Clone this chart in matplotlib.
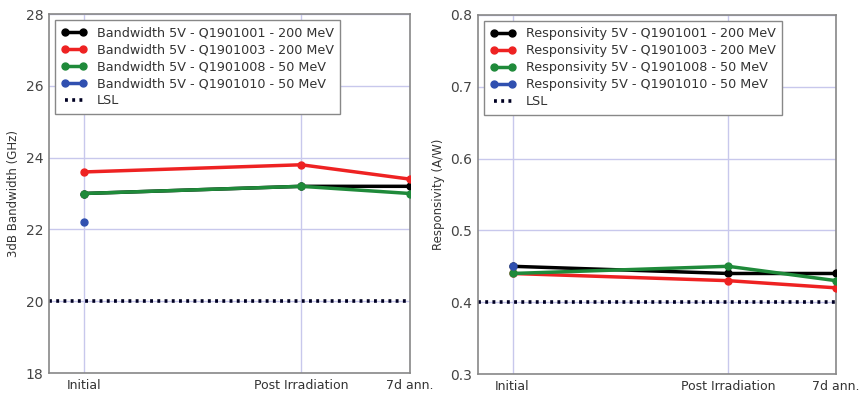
import numpy as np
import matplotlib.pyplot as plt

# --- Datos ---
stages = ['Initial', 'Post Irradiation', '7d ann.']
x_pos = [0, 2, 3]

samples = ['Q1901001 - 200 MeV', 'Q1901003 - 200 MeV', 'Q1901008 - 50 MeV', 'Q1901010 - 50 MeV']
colors = ['#000000', '#ee2222', '#1f8a3a', '#3050b0']

bw_q1901001 = [23.0, 23.2, 23.2]
bw_q1901003 = [23.6, 23.8, 23.4]
bw_q1901008 = [23.0, 23.2, 23.0]
bw_q1901010 = [22.2]
bw_lsl = 20.0

resp_q1901001 = [0.45, 0.44, 0.44]
resp_q1901003 = [0.44, 0.43, 0.42]
resp_q1901008 = [0.44, 0.45, 0.43]
resp_q1901010 = [0.45]
resp_lsl = 0.40

bw_series = [bw_q1901001, bw_q1901003, bw_q1901008, bw_q1901010]
resp_series = [resp_q1901001, resp_q1901003, resp_q1901008, resp_q1901010]

fig = plt.figure(figsize=(8.6, 3.94), dpi=100)
ax1 = fig.add_axes([49/860, 1 - 373/394, 361/860, 359/394])
ax2 = fig.add_axes([478/860, 1 - 374/394, 358/860, 359/394])

panels = [
    (ax1, bw_series, bw_lsl, 'Bandwidth 5V', '3dB Bandwidth (GHz)', (18, 28), [18, 20, 22, 24, 26, 28], '%d'),
    (ax2, resp_series, resp_lsl, 'Responsivity 5V', 'Responsivity (A/W)', (0.3, 0.8), [0.3, 0.4, 0.5, 0.6, 0.7, 0.8], '%.1f'),
]

for ax, series, lsl, name, ylabel, ylim, yticks, fmt in panels:
    for vals, col, s in zip(series, colors, samples):
        ax.plot(x_pos[:len(vals)], vals, '-o', color=col, lw=2.5, ms=5,
                label=f'{name} - {s}', zorder=3)
    ax.axhline(lsl, color='#000022', ls=(0, (0.8, 1.2)), lw=2.6, label='LSL', zorder=2)

    ax.set_xlim(-0.32, 3)
    ax.set_ylim(*ylim)
    ax.set_xticks(x_pos)
    ax.set_xticklabels(stages, fontsize=9, color='#333333')
    ax.set_yticks(yticks)
    ax.set_yticklabels([fmt % t for t in yticks], fontsize=10, color='#444444')
    ax.tick_params(length=0, pad=4)
    ax.set_ylabel(ylabel, fontsize=8.5, color='#333333', labelpad=4)
    ax.grid(True, color='#c8c8ec', lw=1)
    ax.set_axisbelow(True)
    for sp in ax.spines.values():
        sp.set_color('#888888')
        sp.set_linewidth(1.2)

    leg = ax.legend(loc='upper left', fontsize=9.2, numpoints=2, handlelength=2.0,
                    fancybox=False, framealpha=1, borderaxespad=0.45,
                    labelspacing=0.32, borderpad=0.5)
    leg.get_frame().set_edgecolor('#888888')
    for t in leg.get_texts():
        t.set_color('#333333')

fig.savefig('out.png', dpi=100)
